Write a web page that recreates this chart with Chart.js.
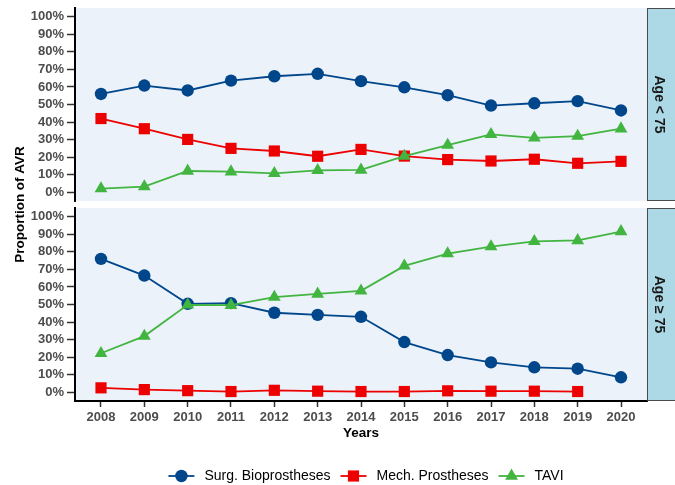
<!DOCTYPE html>
<html>
<head>
<meta charset="utf-8">
<script src="https://cdn.jsdelivr.net/npm/chart.js@4"></script>
<style>
  html, body { margin: 0; padding: 0; background: #ffffff; }
  #wrap { position: relative; width: 675px; height: 485px; }
  canvas { position: absolute; left: 0; top: 0; }
</style>
</head>
<body>
<div id="wrap">
  <canvas id="top" width="675" height="485"></canvas>
  <canvas id="bot" width="675" height="485"></canvas>
</div>
<script>
// ---- data ----
const years = [2008, 2009, 2010, 2011, 2012, 2013, 2014, 2015, 2016, 2017, 2018, 2019, 2020];
const yTicks = [0, 10, 20, 30, 40, 50, 60, 70, 80, 90, 100];
const seriesNames = ['Surg. Bioprostheses', 'Mech. Prostheses', 'TAVI'];
const panelLabels = ['Age < 75', 'Age \u2265 75'];
const xTitle = 'Years';
const yTitle = 'Proportion of AVR';

const surgUnder75 = [56, 60.8, 58, 63.6, 66.1, 67.5, 63.3, 59.8, 55.3, 49.4, 50.7, 51.9, 46.6];
const mechUnder75 = [42, 36.2, 30.1, 25, 23.5, 20.5, 24.4, 20.6, 18.6, 17.8, 18.8, 16.5, 17.6];
const taviUnder75 = [2.1, 3.2, 12.1, 11.7, 10.8, 12.5, 12.7, 20.6, 26.9, 33, 31, 32, 36.2];

const surgOver75 = [76, 66.5, 50.4, 50.8, 45.3, 44.1, 43, 28.6, 21.2, 17, 14.2, 13.4, 8.5];
const mechOver75 = [2.5, 1.5, 0.9, 0.4, 1.1, 0.6, 0.4, 0.4, 0.8, 0.6, 0.6, 0.4, null];
const taviOver75 = [22.2, 32, 49.8, 49.6, 54.2, 56, 57.8, 72, 79, 83, 86, 86.5, 91.6];

// ---- styles ----
const colors = ['#00468B', '#ED0000', '#42B540'];
const pointStyles = ['circle', 'rect', 'triangle'];
const pointRadii = [6.2, 7.9, 7.4];
const FONT = '"Liberation Sans", Arial, Helvetica, sans-serif';
const PANEL_BG = '#EBF2FA';
const STRIP_BG = '#ADD8E6';

function makeDatasets(arrs) {
  return arrs.map((arr, i) => ({
    label: seriesNames[i],
    data: years.map((yr, k) => ({ x: yr, y: arr[k] })),
    borderColor: colors[i],
    backgroundColor: colors[i],
    borderWidth: 1.8,
    pointStyle: pointStyles[i],
    pointRadius: pointRadii[i],
    pointHoverRadius: pointRadii[i],
    pointBorderWidth: 0,
    pointBackgroundColor: colors[i],
    tension: 0,
    order: 2 - i
  }));
}

function yScale() {
  return {
    type: 'linear',
    min: -5, max: 105,
    afterBuildTicks: s => { s.ticks = yTicks.map(v => ({ value: v })); },
    afterFit: s => { s.width = 75; s.paddingTop = 0; s.paddingBottom = 0; },
    ticks: {
      callback: v => v + '%',
      color: '#4D4D4D',
      font: { family: FONT, size: 13, weight: 'bold' },
      padding: 3
    },
    grid: {
      drawOnChartArea: false,
      drawTicks: true,
      tickLength: 8,
      tickColor: '#333333',
      tickWidth: 1.5
    },
    border: { display: true, color: '#000000', width: 2 }
  };
}

function xScale(show) {
  return {
    type: 'linear',
    display: show,
    min: 2007.4, max: 2020.6,
    afterBuildTicks: s => { s.ticks = years.map(v => ({ value: v })); },
    afterFit: s => { if (show) { s.height = 40; } s.paddingLeft = 0; s.paddingRight = 0; },
    ticks: {
      callback: v => String(v),
      color: '#4D4D4D',
      font: { family: FONT, size: 13, weight: 'bold' },
      padding: 3,
      maxRotation: 0,
      autoSkip: false
    },
    grid: {
      drawOnChartArea: false,
      drawTicks: true,
      tickLength: 6,
      tickColor: '#333333',
      tickWidth: 1.5
    },
    border: { display: true, color: '#000000', width: 2 },
    title: {
      display: show,
      text: xTitle,
      color: '#000000',
      font: { family: FONT, size: 13.5, weight: 'bold' },
      padding: 0
    }
  };
}

function panelPlugin(label) {
  return {
    id: 'panel',
    beforeDraw(chart) {
      const a = chart.chartArea, ctx = chart.ctx;
      ctx.save();
      ctx.fillStyle = PANEL_BG;
      ctx.fillRect(a.left, a.top, a.right - a.left, a.bottom - a.top);
      ctx.restore();
    },
    afterDraw(chart) {
      const a = chart.chartArea, ctx = chart.ctx;
      ctx.save();
      ctx.fillStyle = STRIP_BG;
      ctx.fillRect(a.right, a.top, 40, a.bottom - a.top);
      ctx.strokeStyle = '#4a4a4a';
      ctx.lineWidth = 1;
      ctx.strokeRect(a.right + 0.5, a.top + 0.5, 40, a.bottom - a.top - 1);
      ctx.translate(a.right + 11.5, (a.top + a.bottom) / 2);
      ctx.rotate(Math.PI / 2);
      ctx.fillStyle = '#1a1a1a';
      ctx.font = 'bold 14px ' + FONT;
      ctx.textAlign = 'center';
      ctx.textBaseline = 'middle';
      ctx.fillText(label, 0, 0);
      ctx.restore();
    }
  };
}

const extrasPlugin = {
  id: 'extras',
  afterDraw(chart) {
    const ctx = chart.ctx;
    ctx.save();
    // shared y title
    ctx.translate(20, 204.5);
    ctx.rotate(-Math.PI / 2);
    ctx.fillStyle = '#000000';
    ctx.font = 'bold 13.5px ' + FONT;
    ctx.textAlign = 'center';
    ctx.textBaseline = 'middle';
    ctx.fillText(yTitle, 0, 0);
    ctx.restore();

    // legend
    ctx.save();
    ctx.font = '14px ' + FONT;
    const symW = 26, gapSym = 10, gapItem = 10;
    const items = chart.data.datasets.map(d => ({ d, w: ctx.measureText(d.label).width }));
    let total = 0;
    items.forEach((it, i) => { total += symW + gapSym + it.w + (i < items.length - 1 ? gapItem : 0); });
    let x = 366 - total / 2;
    const y = 476;
    items.forEach((it) => {
      const d = it.d;
      ctx.strokeStyle = d.borderColor;
      ctx.lineWidth = 1.8;
      ctx.beginPath();
      ctx.moveTo(x, y);
      ctx.lineTo(x + symW, y);
      ctx.stroke();
      ctx.fillStyle = d.backgroundColor;
      ctx.strokeStyle = d.backgroundColor;
      ctx.lineWidth = 0;
      Chart.helpers.drawPoint(ctx, {
        pointStyle: d.pointStyle,
        radius: d.pointRadius,
        rotation: 0,
        borderWidth: 0
      }, x + symW / 2, y);
      ctx.fillStyle = '#000000';
      ctx.textAlign = 'left';
      ctx.textBaseline = 'middle';
      ctx.fillText(d.label, x + symW + gapSym, y);
      x += symW + gapSym + it.w + gapItem;
    });
    ctx.restore();
  }
};

const common = {
  responsive: false,
  animation: false,
  devicePixelRatio: 1,
  events: []
};

new Chart(document.getElementById('top'), {
  type: 'line',
  data: { datasets: makeDatasets([surgUnder75, mechUnder75, taviUnder75]) },
  options: Object.assign({}, common, {
    layout: { padding: { left: 0, right: 28, top: 8, bottom: 284 } },
    scales: { x: xScale(false), y: yScale() },
    plugins: { legend: { display: false }, tooltip: { enabled: false } }
  }),
  plugins: [panelPlugin(panelLabels[0])]
});

new Chart(document.getElementById('bot'), {
  type: 'line',
  data: { datasets: makeDatasets([surgOver75, mechOver75, taviOver75]) },
  options: Object.assign({}, common, {
    layout: { padding: { left: 0, right: 28, top: 208, bottom: 44 } },
    scales: { x: xScale(true), y: yScale() },
    plugins: { legend: { display: false }, tooltip: { enabled: false } }
  }),
  plugins: [panelPlugin(panelLabels[1]), extrasPlugin]
});
</script>
</body>
</html>
